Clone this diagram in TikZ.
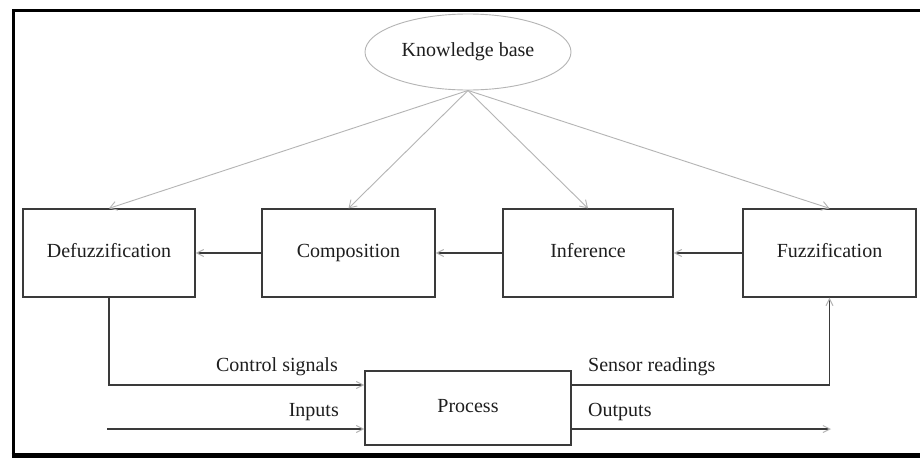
\documentclass[tikz,border=0pt]{standalone}
\usepackage{fontspec}
\setmainfont{Liberation Serif}
\usetikzlibrary{arrows.meta,shapes.geometric}

\definecolor{ink}{HTML}{1E1E1E}
\definecolor{edge}{HTML}{3A3A3A}
\definecolor{faint}{HTML}{B4B4B4}

\tikzset{
  every node/.style={font=\fontsize{20}{24}\selectfont, text=ink},
  stage/.style={draw=edge, line width=1.3pt, minimum height=88pt, inner sep=0pt,
                text height=13.5pt, text depth=4.5pt},
  kbnode/.style={ellipse, draw=faint, line width=0.9pt, minimum width=206pt, minimum height=76pt, inner sep=0pt,
                 text height=13.5pt, text depth=4.5pt},
  kbline/.style={draw=faint, line width=0.9pt, -{Straight Barb[length=7pt, width=9pt, color=faint]}},
  flow/.style={draw=edge, line width=1.3pt, -{Straight Barb[length=7pt, width=7pt, color=faint, line width=1pt]}},
  lbl/.style={inner sep=0pt, text height=13.5pt, text depth=4.5pt}
}

\begin{document}
\begin{tikzpicture}[x=1pt, y=-1pt]
  \useasboundingbox (0,0) rectangle (920,458);
  \fill[white] (0,0) rectangle (920,458);

  % outer frame (open on the right)
  \draw[black, line width=3pt] (13,455) -- (13,10) -- (920,10);
  \draw[black, line width=5.5pt] (11.5,455.5) -- (920,455.5);

  % knowledge base
  \node[kbnode] (kb) at (468,52) {Knowledge base};

  % stage boxes
  \node[stage, minimum width=172pt] (defuzz) at (109,253) {Defuzzification};
  \node[stage, minimum width=173pt] (comp)   at (348.5,253) {Composition};
  \node[stage, minimum width=170pt] (inf)    at (588,253) {Inference};
  \node[stage, minimum width=173pt] (fuzz)   at (829.5,253) {Fuzzification};

  % process block
  \node[draw=edge, line width=1.3pt, minimum width=206pt, minimum height=74pt, inner sep=0pt,
        text height=13.5pt, text depth=4.5pt]
    (process) at (468,408) {Process};

  % knowledge base feeds every stage
  \foreach \b in {defuzz,comp,inf,fuzz}
    \draw[kbline] (kb.south) -- (\b.north);

  % chain of stages
  \draw[flow] (fuzz.west) -- (inf.east);
  \draw[flow] (inf.west) -- (comp.east);
  \draw[flow] (comp.west) -- (defuzz.east);

  % ports on the process block
  \path (process.west) ++(0,-23) coordinate (ctlin);
  \path (process.west) ++(0,21)  coordinate (inpin);
  \path (process.east) ++(0,-23) coordinate (sensout);
  \path (process.east) ++(0,21)  coordinate (outport);
  \coordinate (inpsrc) at (107,429);
  \coordinate (outend) at (831,429);

  % loop: defuzzification -> process -> fuzzification
  \draw[flow] (defuzz.south) |- (ctlin);
  \draw[flow] (sensout) -| (fuzz.south);

  % external inputs and outputs
  \draw[flow] (inpsrc) -- (inpin);
  \draw[flow] (outport) -- (outend);

  % signal labels
  \node[lbl, anchor=east] (lctl) at (338,367) {Control signals};
  \node[lbl, anchor=east] (linp) at (339,412) {Inputs};
  \node[lbl, anchor=west] (lsens) at (588,367) {Sensor readings};
  \node[lbl, anchor=west] (lout) at (588,412) {Outputs};
\end{tikzpicture}
\end{document}
